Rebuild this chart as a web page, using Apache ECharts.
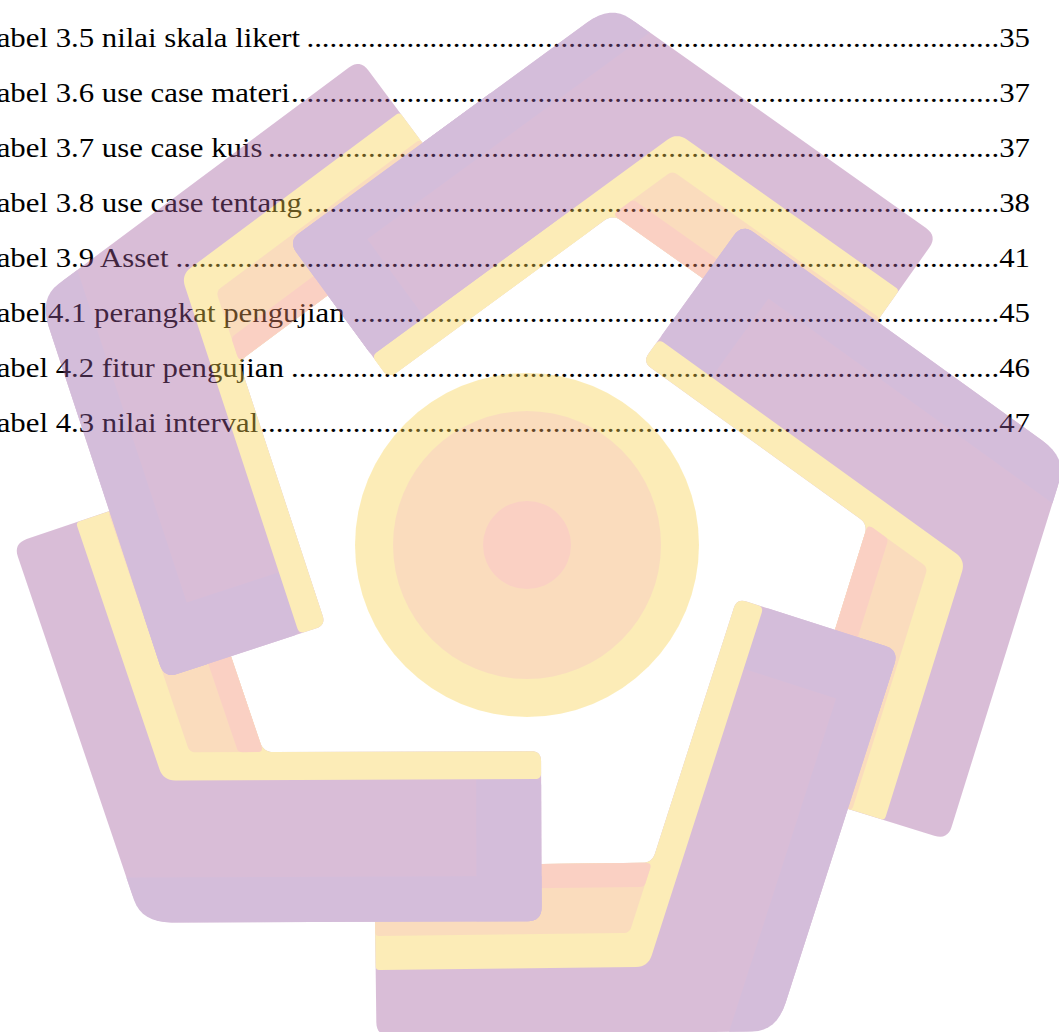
<!DOCTYPE html>
<html>
<head>
<meta charset="utf-8">
<script src="https://cdn.jsdelivr.net/npm/echarts@6/dist/echarts.min.js"></script>
<style>
html,body{margin:0;padding:0;background:#ffffff;}
#wrap{position:relative;width:1059px;height:1032px;overflow:hidden;background:#ffffff;}
#toc,#logo{position:absolute;left:0;top:0;width:1059px;height:1032px;}
#logo{opacity:0.4;pointer-events:none;}
</style>
</head>
<body>
<div id="wrap"><div id="toc"></div><div id="logo"></div></div>
<script>
// ---- data ----
const titles = [
  'Tabel 3.5 nilai skala likert',
  'Tabel 3.6 use case materi',
  'Tabel 3.7 use case kuis',
  'Tabel 3.8 use case tentang',
  'Tabel 3.9 Asset',
  'Tabel4.1 perangkat pengujian',
  'Tabel 4.2 fitur pengujian',
  'Tabel 4.3 nilai interval'
];
const pages = ['35', '37', '37', '38', '41', '45', '46', '47'];

// ---- text styling ----
const FONT = 28, SX = 1.1;
const FAM = 'Liberation Serif, Times New Roman, serif';
const mctx = document.createElement('canvas').getContext('2d');
mctx.font = FONT + 'px Liberation Serif';
function tw(t) { return mctx.measureText(t).width * SX; }
const dotW = tw('.');

const toc = echarts.init(document.getElementById('toc'), null, {renderer: 'svg'});
toc.setOption({
  animation: false,
  grid: {left: 0, right: 29, top: 10, height: 440},
  xAxis: {type: 'value', min: 0, max: 1, show: false},
  yAxis: {type: 'category', data: titles, inverse: true, show: false},
  series: [{
    type: 'custom',
    silent: true,
    encode: {x: 0, y: 1},
    data: titles.map((t, i) => [1, i]),
    renderItem: function (params, api) {
      const i = api.value(1);
      const L = api.coord([0, i]);
      const R = api.coord([1, i]);
      const y = L[1];
      const tx = L[0] - 20;
      const title = titles[i], pg = pages[i];
      const titleRight = tx + tw(title);
      const numLeft = R[0] - tw(pg);
      const n = Math.max(0, Math.floor((numLeft - titleRight) / dotW));
      const st = (text, align) => ({
        text: text, x: 0, y: 0, fill: '#000000', fontSize: FONT,
        fontFamily: FAM, align: align, verticalAlign: 'middle'
      });
      return {
        type: 'group',
        children: [
          {type: 'text', x: tx, y: y, scaleX: SX, style: st(title, 'left')},
          {type: 'text', x: numLeft, y: y, scaleX: SX, style: st('.'.repeat(n), 'right')},
          {type: 'text', x: R[0], y: y, scaleX: SX, style: st(pg, 'right')}
        ]
      };
    }
  }]
});

// ---- watermark logo (decoration) ----
const CX = 527, CY = 545;
const APEX = [611, 5];
const ARM = 400;
const ANG_THICK = 143.8, ANG_THIN = 35.3;
const SHIFT = [[0, 0], [0, 0], [0, 0], [0, -10], [0, 0]];
const COL = {
  purple: '#A35D9E', lavender: '#965DA5', yellow: '#F8D24E',
  peach: '#F3AA5D', pink: '#F38C6C'
};

function unit(deg) { const r = deg * Math.PI / 180; return [Math.cos(r), Math.sin(r)]; }
function add(p, q, k) { return [p[0] + q[0] * k, p[1] + q[1] * k]; }
function rotP(p, deg) {
  const r = deg * Math.PI / 180, dx = p[0] - CX, dy = p[1] - CY;
  return [CX + dx * Math.cos(r) - dy * Math.sin(r), CY + dx * Math.sin(r) + dy * Math.cos(r)];
}
function inter(P1, d1, P2, d2) {
  const den = d1[0] * d2[1] - d1[1] * d2[0];
  const t = ((P2[0] - P1[0]) * d2[1] - (P2[1] - P1[1]) * d2[0]) / den;
  return add(P1, d1, t);
}
function dist(a, b) { return Math.hypot(a[0] - b[0], a[1] - b[1]); }
function roundPts(pts, radii) {
  const out = [], n = pts.length;
  for (let i = 0; i < n; i++) {
    const p = pts[i], a = pts[(i - 1 + n) % n], b = pts[(i + 1) % n];
    const r = radii[i] || 0;
    const la = dist(p, a), lb = dist(p, b);
    if (r <= 0 || la < 1 || lb < 1) { out.push(p); continue; }
    const ra = Math.min(r, la / 2), rb = Math.min(r, lb / 2);
    const p1 = [p[0] + (a[0] - p[0]) * ra / la, p[1] + (a[1] - p[1]) * ra / la];
    const p2 = [p[0] + (b[0] - p[0]) * rb / lb, p[1] + (b[1] - p[1]) * rb / lb];
    for (let k = 0; k <= 8; k++) {
      const t = k / 8, u = 1 - t;
      out.push([u * u * p1[0] + 2 * u * t * p[0] + t * t * p2[0],
                u * u * p1[1] + 2 * u * t * p[1] + t * t * p2[1]]);
    }
  }
  return out;
}
function chevron(k) {
  const rot = 72 * k;
  const A0 = rotP(APEX, rot);
  const A = [A0[0] + SHIFT[k][0], A0[1] + SHIFT[k][1]];
  const dT = unit(ANG_THICK + rot), dN = unit(ANG_THIN + rot);
  const nT = unit(ANG_THICK + rot - 90), nN = unit(ANG_THIN + rot + 90);
  return {
    A: A,
    corner: (a, b) => (a === 0 && b === 0) ? A : inter(add(A, nT, a), dT, add(A, nN, b), dN),
    tEnd: (a, s) => add(add(A, nT, a), dT, s == null ? ARM : s),
    nEnd: (b) => add(add(A, nN, b), dN, ARM)
  };
}
const els = [];
function poly(pts, radii, fill) {
  els.push({type: 'polygon', silent: true, shape: {points: roundPts(pts, radii)}, style: {fill: fill}});
}
function drawThickPart(c, s1) {
  const q = (a1, a2, sa, sb) => [c.tEnd(a1, sa), c.tEnd(a1, sb), c.tEnd(a2, sb), c.tEnd(a2, sa)];
  poly(q(0, 142, s1, ARM), [0, 14, 6, 0], COL.purple);
  poly(q(0, 45, s1, ARM), [0, 14, 0, 0], COL.lavender);
  poly(q(0, 142, ARM - 65, ARM), [0, 14, 6, 0], COL.lavender);
  poly(q(142, 170, s1, ARM), [0, 6, 10, 0], COL.yellow);
}
for (let k = 0; k < 5; k++) {
  const c = chevron(k);
  poly([c.tEnd(0), c.A, c.nEnd(0), c.nEnd(170), c.corner(170, 170), c.tEnd(170)],
       [14, 30, 14, 6, 10, 10], COL.purple);
  poly([c.A, c.tEnd(0), c.tEnd(45), c.corner(45, 0)], [30, 14, 0, 0], COL.lavender);
  poly([c.tEnd(0, ARM - 65), c.tEnd(0), c.tEnd(142), c.tEnd(142, ARM - 65)], [0, 14, 6, 0], COL.lavender);
  poly([c.tEnd(142), c.corner(142, 66), c.nEnd(66), c.nEnd(170), c.corner(170, 170), c.tEnd(170)],
       [6, 12, 4, 4, 10, 10], COL.yellow);
  poly([c.corner(170, 100), c.nEnd(100), c.nEnd(170), c.corner(170, 170)], [6, 4, 4, 8], COL.peach);
  poly([c.corner(170, 146), c.nEnd(146), c.nEnd(170), c.corner(170, 170)], [4, 4, 4, 6], COL.pink);
}
drawThickPart(chevron(0), 150);
els.push({type: 'circle', silent: true, shape: {cx: CX, cy: CY, r: 172}, style: {fill: COL.yellow}});
els.push({type: 'circle', silent: true, shape: {cx: CX, cy: CY, r: 134}, style: {fill: COL.peach}});
els.push({type: 'circle', silent: true, shape: {cx: CX, cy: CY, r: 44}, style: {fill: COL.pink}});

const logo = echarts.init(document.getElementById('logo'));
logo.setOption({animation: false, graphic: {elements: els}});
</script>
</body>
</html>
